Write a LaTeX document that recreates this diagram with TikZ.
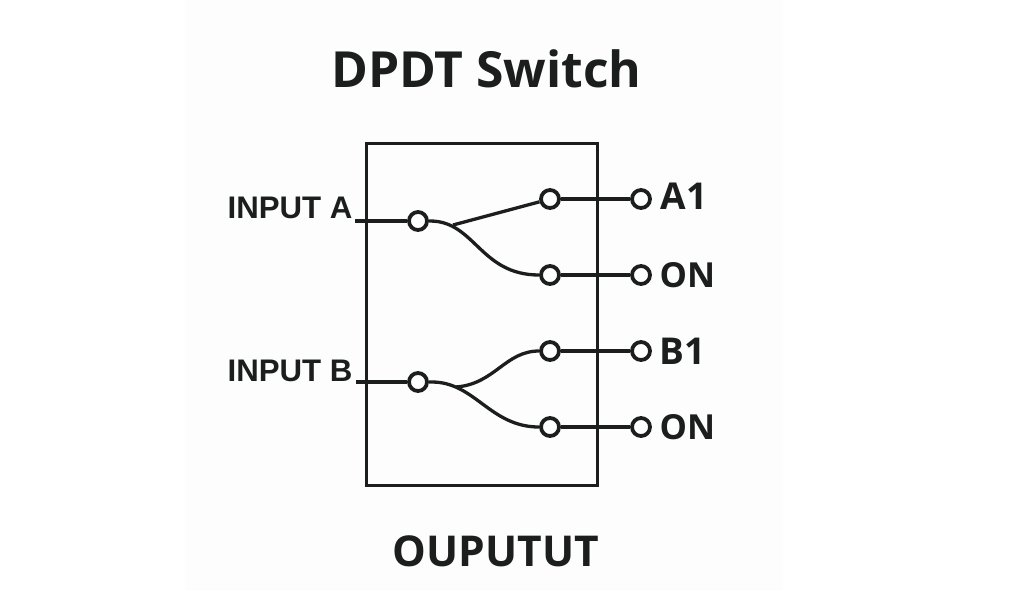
\documentclass[tikz,border=0pt]{standalone}
\usepackage{fontspec}
\setmainfont{Liberation Sans}
\newfontfamily\titlefont{Open Sans}
\definecolor{ink}{HTML}{1C1E1E}
\definecolor{panel}{HTML}{FDFDFD}
\tikzset{
  wire/.style={draw=ink,line width=3.3pt},
  term/.style={circle,draw=ink,line width=3.8pt,fill=white,minimum size=18pt,inner sep=0pt},
  outlab/.style={text=ink,anchor=west,font=\fontsize{34.5}{36}\selectfont\titlefont\bfseries},
  digitlab/.style={text=ink,anchor=west,font=\fontsize{37}{39}\selectfont\titlefont\bfseries},
  inlab/.style={text=ink,anchor=east,font=\fontsize{31.2}{33}\selectfont\bfseries},
}
\begin{document}
\begin{tikzpicture}[x=1pt,y=-1pt]
\useasboundingbox (0,0) rectangle (1024,590);
\fill[white] (-2,-2) rectangle (1026,592);
\fill[panel] (185,-2) rectangle (783,592);
\node[text=ink,font=\fontsize{49.8}{52}\selectfont\titlefont\bfseries] (title) at (486.5,69) {DPDT Switch};
\node[text=ink,font=\fontsize{42.5}{44}\selectfont\titlefont\bfseries] (bottom) at (496,551) {OUPUTUT};
\node[draw=ink,line width=3.8pt,minimum width=231pt,minimum height=342pt,inner sep=0pt] (box) at (482,314.5) {};
\coordinate (ia) at (355,221);
\coordinate (ib) at (356,382);
\node[term] (ca) at (418,221) {};
\node[term] (cb) at (418,382) {};
\node[term] (a1) at (550,199) {};
\node[term] (a2) at (550,275) {};
\node[term] (b1) at (550,351) {};
\node[term] (b2) at (550,427) {};
\node[term] (oa1) at (641,199) {};
\node[term] (oa2) at (641,275) {};
\node[term] (ob1) at (641,351) {};
\node[term] (ob2) at (641,427) {};
\coordinate (ja) at (453,225);
\coordinate (jb) at (456,387);
\draw[wire] (ia) -- (ca);
\draw[wire] (ib) -- (cb);
\draw[wire] (ca) -- (430,221) .. controls (475,221) and (480,275) .. (a2);
\draw[wire] (ja) -- (a1);
\draw[wire] (cb) -- (432,382) .. controls (475,382) and (490,427) .. (b2);
\draw[wire] (jb) .. controls (495,384) and (505,351) .. (b1);
\draw[wire] (a1) -- (oa1);
\draw[wire] (a2) -- (oa2);
\draw[wire] (b1) -- (ob1);
\draw[wire] (b2) -- (ob2);
\node[digitlab] (la1) at (657,196) {A1};
\node[outlab] (la2) at (656,275) {ON};
\node[digitlab] (lb1) at (656,351) {B1};
\node[outlab] (lb2) at (656,427) {ON};
\node[inlab] (lia) at (356,208) {INPUT A};
\node[inlab] (lib) at (356,371) {INPUT B};
\end{tikzpicture}
\end{document}
